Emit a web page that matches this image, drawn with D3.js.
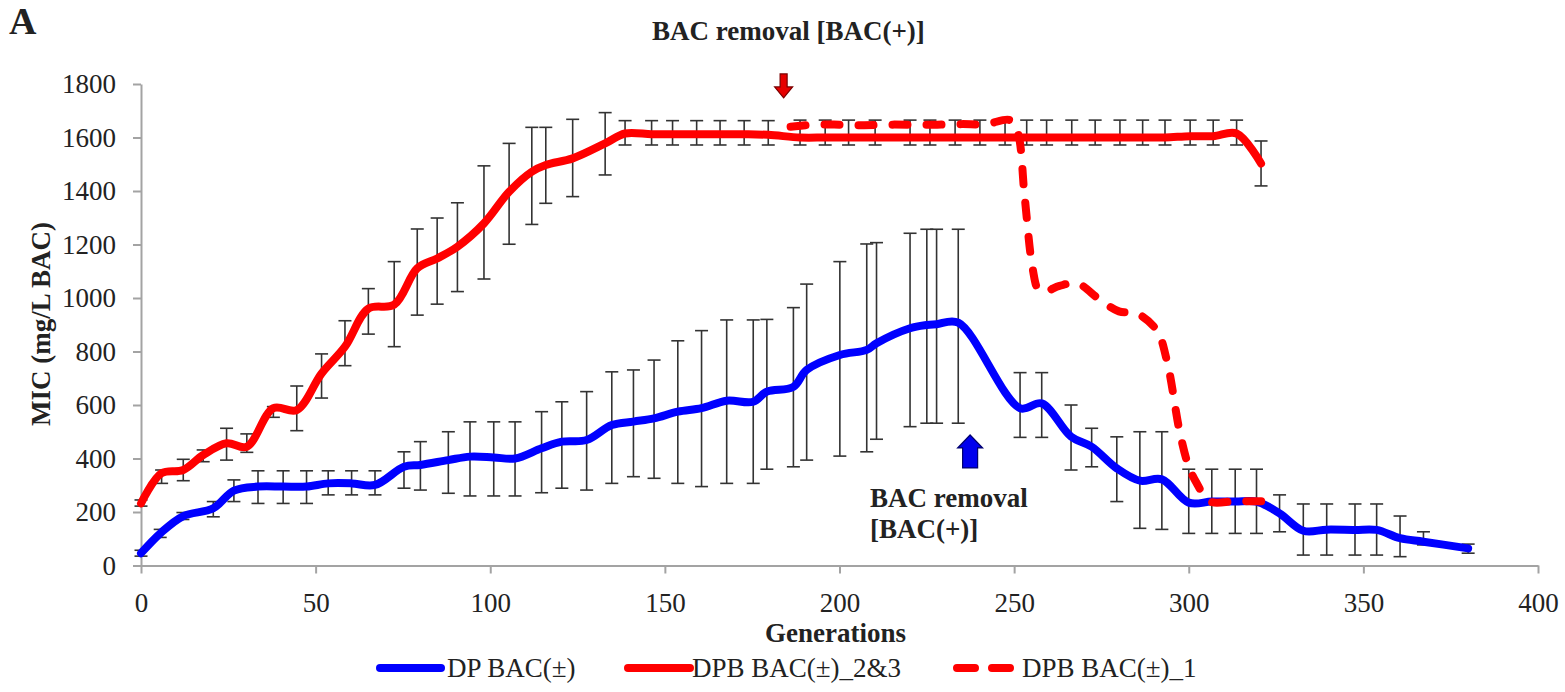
<!DOCTYPE html>
<html>
<head>
<meta charset="utf-8">
<script src="https://cdn.jsdelivr.net/npm/d3@7"></script>
<style>
  html, body { margin: 0; padding: 0; background: #fff; }
  svg { display: block; }
  text { font-family: "Liberation Serif", "Times New Roman", serif; fill: #222; }
</style>
</head>
<body>
<svg id="chart" width="1565" height="692"></svg>
<script>
// ---------- DATA ----------
const xTicks = [0, 50, 100, 150, 200, 250, 300, 350, 400];
const yTicks = [0, 200, 400, 600, 800, 1000, 1200, 1400, 1600, 1800];

// DP BAC(±)
const genDP = [0, 5.5, 12, 20.7, 26.6, 33.5, 40.7, 47.4, 53.6, 60.3,
  67, 75.3, 80, 88, 94.2, 101, 107.1, 114.7, 120.5, 127.6,
  134.8, 141, 146.9, 153.7, 160.5, 167.7, 175.3, 179.2, 186.8, 190.6,
  200.1, 207.8, 210.6, 220.2, 225, 227.8, 234, 251.7, 257.9, 266.3,
  272.2, 279.4, 286, 292.3, 300, 306.6, 313.3, 319.4, 326, 332.8,
  339.5, 347.6, 353.8, 360.5, 367.2, 380];
const valDP = [46, 120, 184, 214, 280, 295, 295, 295, 307, 307,
  301, 369, 376, 394, 407, 404, 400, 438, 463, 469,
  525, 538, 550, 575, 588, 616, 612, 650, 668, 731,
  787, 806, 831, 887, 899, 902, 908, 588, 606, 482,
  444, 363, 317, 322, 235, 239, 239, 239, 195, 130,
  134, 133, 133, 102, 89, 64];
const lowDP = [35, 105, 172, 182, 239, 232, 232, 232, 264, 264,
  264, 289, 282, 270, 260, 260, 260, 272, 289, 282,
  307, 332, 326, 307, 295, 307, 307, 360, 369, 394,
  409, 425, 472, 519, 532, 532, 532, 479, 479, 357,
  369, 239, 139, 135, 120, 120, 120, 120, 126, 39,
  39, 39, 39, 33, 77, 46];
const highDP = [57, 135, 198, 239, 320, 354, 354, 354, 354, 354,
  354, 425, 463, 500, 537, 537, 537, 575, 612, 650,
  724, 731, 768, 840, 878, 918, 918, 920, 964, 1052,
  1136, 1202, 1207, 1242, 1257, 1257, 1257, 721, 721, 600,
  513, 481, 500, 500, 360, 360, 360, 360, 264, 230,
  230, 230, 230, 185, 126, 80];

// DPB BAC(±)_2&3
const genDPB23 = [0, 5.9, 12.1, 17.8, 24.5, 30.3,
  37.9, 44.6, 51.7, 58.4, 65.1,
  72.5, 79.1, 84.8, 90.6, 98.2,
  105.4, 111.9, 115.9, 123.6, 132.9,
  138.6, 146.2, 152.2, 159.1, 165.8, 172.7,
  179.6,
  188.7, 195.9, 202.6, 210.2, 220.2, 225.9, 233.1, 240.2, 247.4,
  253.6, 259.3, 266.5, 273.2, 280.3, 286.8,
  293.2, 300.4, 307, 313.7, 320.7];
const valDPB23 = [232, 345, 357, 413, 457, 444,
  588, 581, 718, 818, 960,
  975, 1111, 1148, 1192, 1279,
  1397, 1472, 1497, 1522, 1578,
  1615, 1612, 1612, 1612, 1612, 1612,
  1610,
  1600, 1600, 1600, 1600, 1600, 1600, 1600, 1600, 1600,
  1600, 1600, 1600, 1600, 1600, 1600,
  1600, 1605, 1605, 1615, 1503];
const lowDPB23 = [222, 307, 317, 388, 394, 423,
  554, 504, 626, 747, 865,
  818, 936, 977, 1024, 1071,
  1201, 1275, 1354, 1379, 1460,
  1572, 1572, 1572, 1572, 1572, 1572,
  1572,
  1572, 1572, 1572, 1572, 1572, 1572, 1572, 1572, 1572,
  1572, 1572, 1572, 1572, 1572, 1572,
  1572, 1572, 1572, 1572, 1419];
const highDPB23 = [245, 357, 397, 432, 513, 492,
  594, 671, 791, 915, 1035,
  1136, 1258, 1299, 1356, 1494,
  1578, 1638, 1638, 1668, 1693,
  1663, 1663, 1663, 1663, 1663, 1663,
  1663,
  1665, 1665, 1665, 1665, 1665, 1665, 1665, 1665, 1665,
  1665, 1665, 1665, 1665, 1665, 1665,
  1665, 1665, 1665, 1665, 1587];

// DPB BAC(±)_1
const genDPB1 = [186, 193, 200, 207, 214, 221, 228, 235, 242, 248.8,
  251, 253, 255.3, 257, 259, 263, 268, 274.6, 280, 285,
  290.8, 293.7, 297.5, 300, 302.3, 306, 313, 319, 325.2];
const valDPB1 = [1640, 1648, 1648, 1646, 1648, 1648, 1648, 1650, 1650, 1665,
  1620, 1380, 1110, 1030, 1025, 1045, 1055, 993, 950, 943,
  880, 768, 494, 370, 307, 240, 240, 240, 240];

const seriesNames = ["DP BAC(\u00b1)", "DPB BAC(\u00b1)_2&3", "DPB BAC(\u00b1)_1"];
const removalText = ["BAC removal [BAC(+)]", "BAC removal", "[BAC(+)]"];
const removalGen = [184, 237.4];      // generations where BAC was removed (red, blue)
const arrowVal = [1748, 488];         // arrow tip MIC level (red, blue)

// ---------- DRAW ----------
const svg = d3.select("#chart");
const x = d3.scaleLinear().domain([0, 400]).range([141, 1538]);
const y = d3.scaleLinear().domain([0, 1800]).range([565.5, 84]);

const AXIS = "#a3a3a3";
const BLUE = "#0000ff", RED = "#ff0000";

// axes
const yAxis = svg.append("g").attr("transform", `translate(${x(0)},0)`)
  .call(d3.axisLeft(y).tickValues(yTicks).tickFormat(d3.format("d"))
    .tickSize(8).tickSizeOuter(0).tickPadding(17));
const xAxis = svg.append("g").attr("transform", `translate(0,${y(0)})`)
  .call(d3.axisBottom(x).tickValues(xTicks).tickFormat(d3.format("d"))
    .tickSize(8).tickSizeOuter(0).tickPadding(19));
[yAxis, xAxis].forEach(g => {
  g.select(".domain").attr("stroke", AXIS).attr("stroke-width", 2);
  g.selectAll(".tick line").attr("stroke", AXIS).attr("stroke-width", 2);
  g.selectAll(".tick text").style("font-family", '"Liberation Serif", serif')
    .style("font-size", "27px").attr("fill", "#222");
});

// error bars
function errorBars(gens, lows, highs) {
  const g = svg.append("g").attr("stroke", "#333").attr("stroke-width", 1.6).attr("fill", "none");
  const idx = d3.range(gens.length);
  g.selectAll("line.stem").data(idx).enter().append("line")
    .attr("x1", i => x(gens[i])).attr("x2", i => x(gens[i]))
    .attr("y1", i => y(lows[i])).attr("y2", i => y(highs[i]));
  g.selectAll("line.capT").data(idx).enter().append("line")
    .attr("x1", i => x(gens[i]) - 6.5).attr("x2", i => x(gens[i]) + 6.5)
    .attr("y1", i => y(highs[i])).attr("y2", i => y(highs[i]));
  g.selectAll("line.capB").data(idx).enter().append("line")
    .attr("x1", i => x(gens[i]) - 6.5).attr("x2", i => x(gens[i]) + 6.5)
    .attr("y1", i => y(lows[i])).attr("y2", i => y(lows[i]));
}
errorBars(genDP, lowDP, highDP);
errorBars(genDPB23, lowDPB23, highDPB23);

// lines
const line = d3.line().x(d => x(d[0])).y(d => y(d[1])).curve(d3.curveCatmullRom.alpha(0.5));
const DASH = "15,19";
function drawLine(gens, vals, color, dash) {
  svg.append("path").datum(d3.zip(gens, vals))
    .attr("d", line).attr("fill", "none").attr("stroke", color)
    .attr("stroke-width", 8).attr("stroke-linecap", "round").attr("stroke-linejoin", "round")
    .attr("stroke-dasharray", dash || null);
}
drawLine(genDP, valDP, BLUE);
drawLine(genDPB23, valDPB23, RED);
drawLine(genDPB1, valDPB1, RED, DASH);

// arrows
function arrow(cx, tipY, dir, shaftHW, headHW, headLen, shaftLen, fill, stroke) {
  // dir = +1 pointing down, -1 pointing up
  const hb = tipY - dir * headLen, se = hb - dir * shaftLen;
  const pts = [[cx, tipY], [cx + headHW, hb], [cx + shaftHW, hb], [cx + shaftHW, se],
               [cx - shaftHW, se], [cx - shaftHW, hb], [cx - headHW, hb]];
  svg.append("path").attr("d", "M" + pts.map(p => p.join(",")).join("L") + "Z")
    .attr("fill", fill).attr("stroke", stroke).attr("stroke-width", 1.2);
}
arrow(x(removalGen[0]), y(arrowVal[0]), 1, 3.5, 9, 11, 13, "#e60000", "#7a0000");
arrow(x(removalGen[1]), y(arrowVal[1]), -1, 7.5, 12.5, 13, 20, "#0000ee", "#000070");

// annotations
svg.append("text").attr("x", 652).attr("y", 40).attr("font-weight", "bold")
  .style("font-size", "27px").text(removalText[0]);
svg.append("text").attr("x", 870).attr("y", 507).attr("font-weight", "bold")
  .style("font-size", "27px").text(removalText[1]);
svg.append("text").attr("x", 870).attr("y", 538).attr("font-weight", "bold")
  .style("font-size", "27px").text(removalText[2]);

// panel letter
svg.append("text").attr("x", 9).attr("y", 34).attr("font-weight", "bold")
  .style("font-size", "38px").attr("fill", "#111").text("A");

// axis titles
svg.append("text").attr("transform", "translate(41,324) rotate(-90)")
  .attr("text-anchor", "middle").attr("dominant-baseline", "central")
  .attr("font-weight", "bold").style("font-size", "27px").text("MIC (mg/L BAC)");
svg.append("text").attr("x", (x(0) + x(400)) / 2 - 4).attr("y", 642)
  .attr("text-anchor", "middle").attr("font-weight", "bold")
  .style("font-size", "27px").text("Generations");

// legend
const legendItems = [
  {x0: 380, x1: 441, tx: 447, color: BLUE, dash: null},
  {x0: 628, x1: 690, tx: 692, color: RED, dash: null},
  {x0: 957, x1: 1016, tx: 1022, color: RED, dash: "18,17"}
];
const lg = svg.append("g");
legendItems.forEach((d, i) => {
  lg.append("line").attr("x1", d.x0).attr("x2", d.x1).attr("y1", 668).attr("y2", 668)
    .attr("stroke", d.color).attr("stroke-width", 8).attr("stroke-linecap", "round")
    .attr("stroke-dasharray", d.dash);
  lg.append("text").attr("x", d.tx).attr("y", 677).style("font-size", "27px").text(seriesNames[i]);
});
</script>
</body>
</html>
